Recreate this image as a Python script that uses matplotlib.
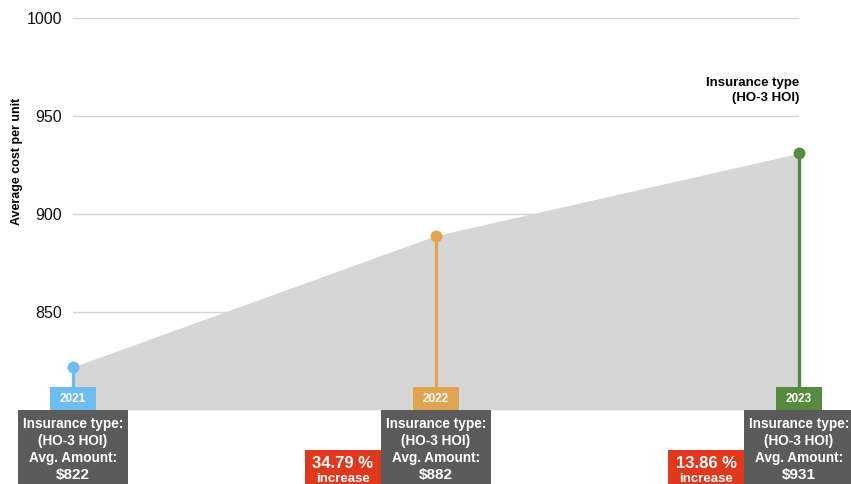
import matplotlib
matplotlib.use('Agg')
import matplotlib.pyplot as plt
from matplotlib.patches import Rectangle

plt.rcParams['font.family'] = ['Liberation Sans', 'DejaVu Sans']

# data
years = [2021, 2022, 2023]
avg_cost = [822, 889, 931]
year_labels = ['2021', '2022', '2023']
amount_labels = ['$822', '$882', '$931']
increase_labels = ['34.79 %', '13.86 %']
yticks = [850, 900, 950, 1000]

year_colors = ['#6dbdf2', '#e0a552', '#568a3e']
box_grey = '#5b5b5b'
red = '#e0381c'

W, H = 851, 484
fig = plt.figure(figsize=(W / 100, H / 100), dpi=100)
ax = fig.add_axes([73 / W, 1 - 410 / H, 726 / W, 392 / H])

ax.fill_between(years, avg_cost, 800, color='#d6d6d6', lw=0, zorder=1)
for x, y, c in zip(years, avg_cost, year_colors):
    ax.plot([x, x], [800, y], color=c, lw=2.4, zorder=3, clip_on=False)
    ax.plot(x, y, 'o', color=c, ms=7.5, zorder=4, clip_on=False)

ax.set_xlim(2021, 2023)
ax.set_ylim(800, 1000)
ax.set_yticks(yticks)
ax.set_xticks([])
ax.yaxis.grid(True, color='#d4d4d4', lw=1)
ax.set_axisbelow(True)
for s in ax.spines.values():
    s.set_visible(False)
ax.tick_params(axis='y', length=0, pad=8, labelsize=11.5, labelcolor='#111111')
ax.set_ylabel('Average cost per unit', fontsize=9, fontweight='bold')
ax.yaxis.set_label_coords(-0.069, 0.635)

ax.text(2023, 963, 'Insurance type\n(HO-3 HOI)', ha='right', va='center',
        fontsize=9.5, fontweight='bold', linespacing=1.3)


def px_box(cx, top, w, h, color):
    # box given in pixel coords (top measured from figure top)
    r = Rectangle(((cx - w / 2) / W, 1 - (top + h) / H), w / W, h / H,
                  transform=fig.transFigure, color=color, lw=0, zorder=5)
    fig.add_artist(r)


def px_text(cx, y, s, **kw):
    fig.text(cx / W, 1 - y / H, s, ha='center', va='center', color='white',
             fontweight='bold', zorder=6, **kw)


for i, x in enumerate(years):
    cx = ax.transData.transform((x, 800))[0]
    px_box(cx, 387, 46, 23, year_colors[i])
    px_text(cx, 399, year_labels[i], fontsize=8.5)
    px_box(cx, 410, 110, 80, box_grey)
    px_text(cx, 424, 'Insurance type:', fontsize=9.8)
    px_text(cx, 441, '(HO-3 HOI)', fontsize=9.8)
    px_text(cx, 458, 'Avg. Amount:', fontsize=9.8)
    px_text(cx, 475, amount_labels[i], fontsize=11)
    if i > 0:
        rc = cx - 55 - 38
        px_box(rc, 450, 76, 40, red)
        px_text(rc, 464, increase_labels[i - 1], fontsize=12)
        px_text(rc, 479, 'increase', fontsize=9.5)

fig.savefig('out.png', dpi=100)
